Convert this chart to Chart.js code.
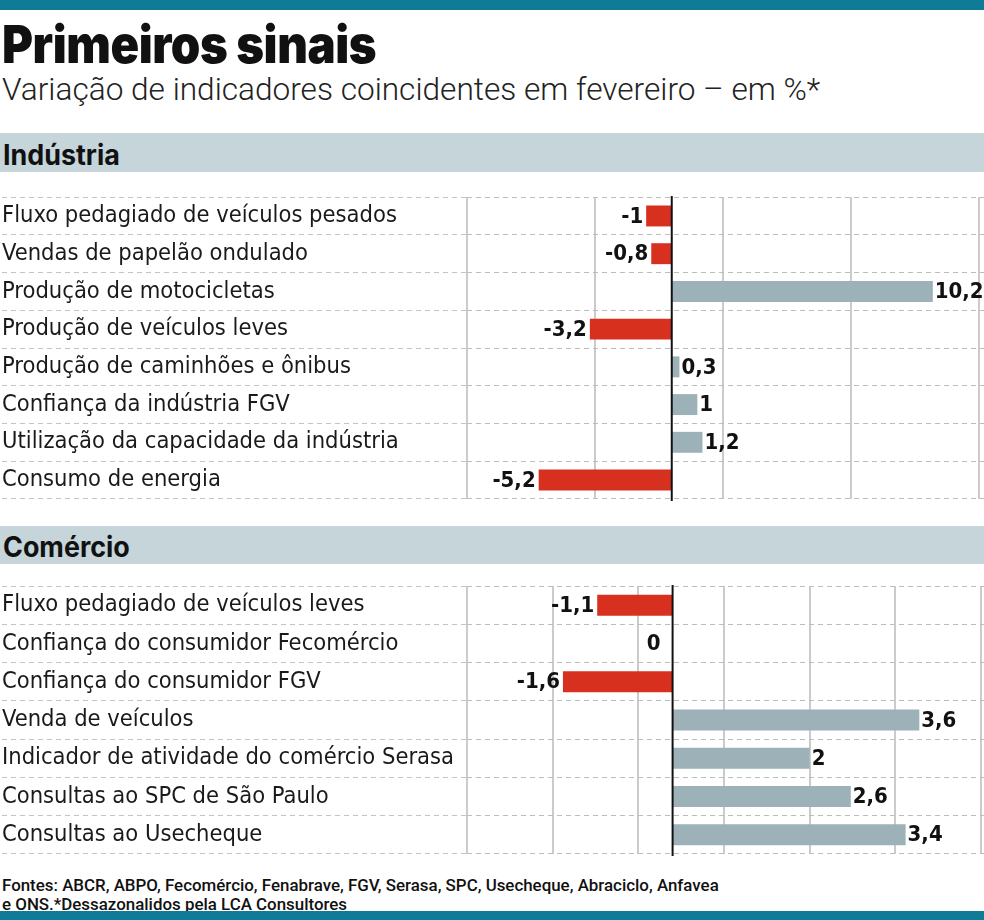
<!DOCTYPE html>
<html><head><meta charset="utf-8">
<script src="https://cdn.jsdelivr.net/npm/chart.js@4.4.1/dist/chart.umd.min.js"></script>
<style>
html,body{margin:0;padding:0;background:#fff;}
body{width:984px;height:920px;overflow:hidden;position:relative;}
.strip{position:absolute;left:0;width:984px;background:#0f7b96;}
#title{position:absolute;left:2px;top:19px;font:900 52px Inter,sans-serif;line-height:52px;color:#111;white-space:nowrap;transform:scaleX(0.91);transform-origin:0 0;letter-spacing:-0.5px;}
#subtitle{position:absolute;left:2px;top:74px;font:300 31.6px Roboto,sans-serif;line-height:31px;color:#222;white-space:nowrap;}
.band{position:absolute;left:0;width:984px;background:#c5d5da;}
.band span{position:absolute;left:3px;font:700 28px Inter,sans-serif;line-height:28px;color:#111;transform:scaleX(0.96);transform-origin:0 0;}
.cbox{position:absolute;left:0;width:984px;}
#foot{position:absolute;left:2px;top:876px;font:500 16.9px Roboto,sans-serif;line-height:19px;color:#111;white-space:nowrap;}
</style></head>
<body>
<div class="strip" style="top:0;height:10px"></div>
<div id="title">Primeiros sinais</div>
<div id="subtitle">Variação de indicadores coincidentes em fevereiro – em %*</div>
<div class="band" style="top:133px;height:39px"><span style="top:8px">Indústria</span></div>
<div class="cbox" style="top:183px;height:330px"><canvas id="c1" width="984" height="330"></canvas></div>
<div class="band" style="top:526px;height:38px"><span style="top:7px">Comércio</span></div>
<div class="cbox" style="top:572px;height:296px"><canvas id="c2" width="984" height="296"></canvas></div>
<div id="foot">Fontes: ABCR, ABPO, Fecomércio, Fenabrave, FGV, Serasa, SPC, Usecheque, Abraciclo, Anfavea<br>e ONS.*Dessazonalidos pela LCA Consultores</div>
<div class="strip" style="top:911px;height:9px"></div>
<script>
// ---- data ----
const industryLabels = [
  "Fluxo pedagiado de veículos pesados",
  "Vendas de papelão ondulado",
  "Produção de motocicletas",
  "Produção de veículos leves",
  "Produção de caminhões e ônibus",
  "Confiança da indústria FGV",
  "Utilização da capacidade da indústria",
  "Consumo de energia"
];
const industryValues = [-1, -0.8, 10.2, -3.2, 0.3, 1, 1.2, -5.2];
const industryGrid = [-8, -3, 2, 7, 12];

const commerceLabels = [
  "Fluxo pedagiado de veículos leves",
  "Confiança do consumidor Fecomércio",
  "Confiança do consumidor FGV",
  "Venda de veículos",
  "Indicador de atividade do comércio Serasa",
  "Consultas ao SPC de São Paulo",
  "Consultas ao Usecheque"
];
const commerceValues = [-1.1, 0, -1.6, 3.6, 2, 2.6, 3.4];
const commerceGrid = [-3, -1.75, -0.5, 0.75, 2, 3.25, 4.5];

// ---- styles ----
const RED = '#d8301e', GREY = '#9db1b8';
const LABEL_FONT = {family: '"DejaVu Sans Condensed", "Open Sans", sans-serif', size: 23.5};
const VALUE_FONT = 'bold 22px "DejaVu Sans Condensed", "DejaVu Sans", sans-serif';

const fmt = v => String(v).replace('.', ',');

const valuePlugin = {
  id: 'valueLabels',
  afterDatasetsDraw(chart) {
    const ctx = chart.ctx;
    const xs = chart.scales.x;
    const ca = chart.chartArea;
    const x0 = xs.getPixelForValue(0);
    ctx.save();
    ctx.strokeStyle = '#111';
    ctx.lineWidth = 2;
    ctx.beginPath();
    ctx.moveTo(x0, ca.top - 1);
    ctx.lineTo(x0, ca.bottom + 2);
    ctx.stroke();
    const meta = chart.getDatasetMeta(0);
    const data = chart.data.datasets[0].data;
    ctx.font = VALUE_FONT;
    ctx.fillStyle = '#111';
    ctx.textBaseline = 'middle';
    meta.data.forEach((el, i) => {
      const v = data[i];
      if (v > 0) {
        ctx.textAlign = 'left';
        ctx.fillText(fmt(v), el.x + 2, el.y + 1);
      } else {
        ctx.textAlign = 'right';
        ctx.fillText(fmt(v), el.x - (v === 0 ? 12 : 3), el.y + 1);
      }
    });
    ctx.restore();
  }
};

function makeChart(id, labels, values, grid, min, max, barPct) {
  return new Chart(document.getElementById(id), {
    type: 'bar',
    data: {
      labels: labels,
      datasets: [{
        data: values,
        backgroundColor: c => (c.raw < 0 ? RED : GREY),
        borderWidth: 0,
        barPercentage: barPct,
        categoryPercentage: 1
      }]
    },
    options: {
      indexAxis: 'y',
      responsive: false,
      animation: false,
      devicePixelRatio: 1,
      layout: {padding: {top: 10, bottom: 10, left: 2, right: 0}},
      plugins: {legend: {display: false}, tooltip: {enabled: false}, title: {display: false}},
      scales: {
        x: {
          type: 'linear',
          min: min, max: max,
          afterBuildTicks: s => { s.ticks = grid.map(v => ({value: v})); },
          ticks: {display: false},
          grid: {color: '#cbcbcb', lineWidth: 2, drawTicks: false},
          border: {display: false}
        },
        y: {
          type: 'category',
          offset: true,
          afterFit: s => { s.width = 465; },
          ticks: {
            autoSkip: false,
            crossAlign: 'far',
            padding: 0,
            color: '#1a1a1a',
            font: LABEL_FONT
          },
          grid: {
            offset: true,
            color: '#bdbdbd',
            lineWidth: 1,
            drawTicks: true,
            tickLength: 465,
            tickColor: '#c4c4c4',
            tickWidth: 1,
            tickBorderDash: [5, 4]
          },
          border: {display: false, dash: [5, 4]}
        }
      }
    },
    plugins: [valuePlugin]
  });
}

makeChart('c1', industryLabels, industryValues, industryGrid, -8, 12.2, 0.555);
makeChart('c2', commerceLabels, commerceValues, commerceGrid, -3, 4.544, 0.55);
</script>
</body></html>
